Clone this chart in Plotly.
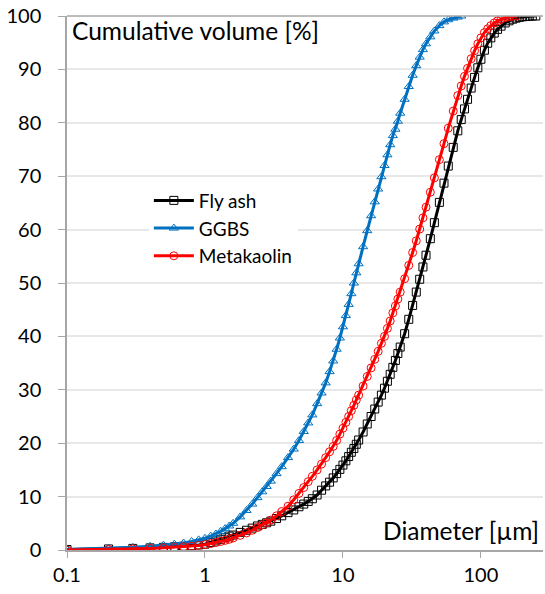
import plotly.graph_objects as go

# Particle diameters [µm] (shared measurement classes)
diameters = [0.1, 0.2, 0.3, 0.4, 0.5, 0.6, 0.7, 0.8, 0.9, 1.0,
             1.1, 1.2, 1.3, 1.4, 1.5, 1.6, 1.8, 2.0, 2.2, 2.4,
             2.6, 2.8, 3.0, 3.3, 3.6, 4.0, 4.4, 4.8, 5.2, 5.6,
             6.0, 6.5, 7.0, 7.5, 8.0, 8.5, 9.0, 9.5, 10, 10.5,
             11, 11.5, 12, 12.5, 13, 14, 15, 16, 17, 18,
             19, 20, 21, 22, 23, 24, 25, 26, 28, 30,
             32, 34, 36, 38, 40, 43, 46, 50, 54, 58,
             63, 68, 72, 76, 80, 85, 90, 95, 100, 106,
             112, 118, 125, 132, 140, 150, 160, 170, 180, 190,
             200, 212, 224, 236, 250]

# Cumulative volume [%]
fly_ash = [0.1, 0.2, 0.3, 0.4, 0.5, 0.6, 0.7, 0.8, 0.95, 1.1,
           1.4, 1.7, 2.0, 2.3, 2.6, 2.8, 3.3, 3.7, 4.1, 4.5,
           4.8, 5.1, 5.4, 5.9, 6.4, 7.0, 7.5, 8.1, 8.6, 9.1,
           9.6, 10.3, 11.2, 12.0, 12.7, 13.5, 14.3, 15.1, 15.9, 16.7,
           17.5, 18.3, 19.0, 19.8, 20.6, 22.1, 23.6, 25.0, 26.4, 27.7,
           29.0, 30.3, 31.6, 32.9, 34.2, 35.5, 36.8, 38.0, 40.5, 43.2,
           45.8, 48.3, 50.7, 53.0, 55.2, 58.3, 61.3, 65.1, 68.7, 71.9,
           75.4, 78.5, 80.6, 82.6, 84.4, 86.5, 88.5, 90.3, 91.9, 93.6,
           94.9, 95.9, 96.8, 97.5, 98.1, 98.7, 99.1, 99.4, 99.6, 99.75,
           99.85, 99.9, 99.95, 100.0, 100.0]

ggbs = [0.1, 0.3, 0.5, 0.7, 0.9, 1.1, 1.3, 1.6, 1.9, 2.2,
        2.6, 3.0, 3.5, 4.0, 4.5, 5.0, 6.2, 7.4, 8.6, 9.8,
        10.9, 11.9, 12.9, 14.3, 15.6, 17.3, 18.9, 20.5, 22.2, 23.8,
        25.3, 27.4, 29.4, 31.3, 33.4, 35.4, 37.6, 39.7, 41.8, 43.9,
        46.0, 48.0, 50.0, 51.9, 53.6, 56.8, 59.8, 62.6, 65.2, 67.6,
        69.9, 72.0, 74.0, 75.9, 77.6, 78.8, 80.3, 81.8, 84.4, 86.8,
        88.9, 90.7, 92.3, 93.7, 94.8, 96.1, 97.2, 98.2, 98.9, 99.3,
        99.6, 99.8, 100.0]

metakaolin = [0.0, 0.1, 0.2, 0.3, 0.4, 0.5, 0.6, 0.7, 0.85, 1.0,
              1.2, 1.4, 1.6, 1.8, 2.0, 2.25, 2.75, 3.2, 3.7, 4.2,
              4.7, 5.1, 5.6, 6.4, 7.2, 8.2, 9.4, 10.6, 11.7, 12.8,
              13.8, 15.0, 16.1, 17.3, 18.4, 19.4, 20.5, 21.7, 22.8, 23.9,
              25.0, 26.1, 27.1, 28.1, 29.0, 30.7, 32.5, 34.1, 35.7, 37.2,
              38.7, 40.0, 41.5, 42.9, 44.4, 45.7, 47.0, 48.3, 50.8, 53.3,
              55.7, 57.9, 60.1, 62.2, 64.2, 67.0, 69.7, 73.1, 76.1, 79.0,
              82.2, 85.1, 86.9, 88.7, 90.2, 92.0, 93.5, 94.8, 95.9, 96.9,
              97.6, 98.2, 98.7, 99.1, 99.4, 99.7, 99.85, 99.95, 100.0]

x_ticks = [0.1, 1, 10, 100]
x_tick_labels = ["0.1", "1", "10", "100"]

FONT = "Lato"
AXIS_GRAY = "#A6A6A6"

fig = go.Figure()

series = [
    ("Fly ash", fly_ash, "#000000", "square-open"),
    ("GGBS", ggbs, "#0070C0", "triangle-up-open"),
    ("Metakaolin", metakaolin, "#FF0000", "circle-open"),
]
for name, vals, color, symbol in series:
    fig.add_trace(go.Scatter(
        x=diameters[:len(vals)], y=vals, name=name, mode="lines+markers",
        line=dict(color=color, width=3),
        marker=dict(symbol=symbol, size=8, color=color, line=dict(width=1, color=color)),
    ))

fig.update_layout(
    width=545, height=594,
    margin=dict(l=67, r=2, t=16, b=44),
    paper_bgcolor="white", plot_bgcolor="white",
    font=dict(family=FONT, size=20, color="#000000"),
    showlegend=True,
    legend=dict(x=0.172, y=0.690, xanchor="left", yanchor="top",
                bgcolor="white", font=dict(family=FONT, size=19),
                tracegroupgap=0, itemwidth=40),
    xaxis=dict(type="log", range=[-1, 2.45], tickvals=x_ticks, ticktext=x_tick_labels,
               showgrid=False, showline=True, linecolor=AXIS_GRAY, linewidth=1.5,
               ticks="outside", ticklen=6, tickcolor=AXIS_GRAY, zeroline=False,
               automargin=False, ticklabeloverflow="allow", tickfont=dict(family=FONT, size=20)),
    yaxis=dict(range=[0, 100], dtick=10, showgrid=True, gridcolor="#E8E8E8", gridwidth=1.5,
               showline=True, linecolor=AXIS_GRAY, linewidth=1.5,
               ticks="outside", ticklen=7, tickcolor=AXIS_GRAY, zeroline=False,
               automargin=False, ticklabelstandoff=13, ticklabeloverflow="allow",
               tickfont=dict(family=FONT, size=20)),
    shapes=[dict(type="line", xref="paper", yref="paper", x0=0, x1=1, y0=1, y1=1,
                 line=dict(color=AXIS_GRAY, width=1.5))],
    annotations=[
        dict(text="Cumulative volume [%]", xref="paper", yref="paper", x=0.006, y=0.972,
             xanchor="left", yanchor="middle", showarrow=False, font=dict(family=FONT, size=24.5)),
        dict(text="Diameter [µm]", xref="paper", yref="paper", x=0.996, y=0.036,
             xanchor="right", yanchor="middle", showarrow=False, font=dict(family=FONT, size=24.5)),
    ],
)

# Remove the default page margin so the figure fills the 545x594 window exactly.
fig.write_html("out.html",
               config={"displayModeBar": False},
               post_script="document.body.style.margin='0';document.body.style.overflow='hidden';")
